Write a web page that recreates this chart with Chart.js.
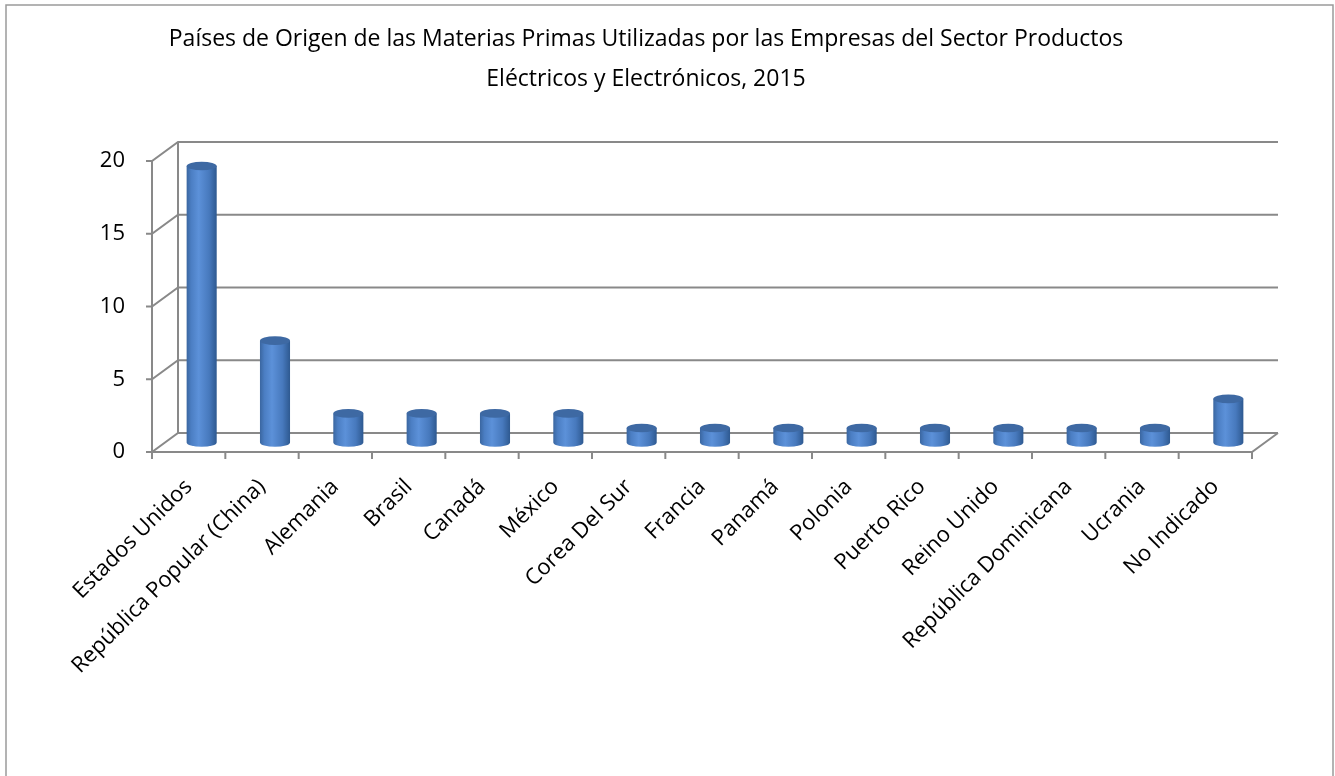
<!DOCTYPE html>
<html>
<head>
<meta charset="utf-8">
<script src="https://cdn.jsdelivr.net/npm/chart.js@4.4.1/dist/chart.umd.min.js"></script>
<style>
  html, body { margin: 0; padding: 0; background: #fff; }
  #wrap { width: 1335px; height: 776px; position: relative; }
</style>
</head>
<body>
<div id="wrap"><canvas id="originChart"></canvas></div>
<script>
const countries = [
    'Estados Unidos', 'República Popular (China)', 'Alemania', 'Brasil', 'Canadá',
    'México', 'Corea Del Sur', 'Francia', 'Panamá', 'Polonia', 'Puerto Rico',
    'Reino Unido', 'República Dominicana', 'Ucrania', 'No Indicado'
];
const companies = [19, 7, 2, 2, 2, 2, 1, 1, 1, 1, 1, 1, 1, 1, 3];
const yTicks = [0, 5, 10, 15, 20];
const titleLines = [
    'Países de Origen de las Materias Primas Utilizadas por las Empresas del Sector Productos',
    'Eléctricos y Electrónicos, 2015'
];

// depth of the 3D box in pixels
const depthX = 26;
const depthY = -19;
const lineColor = '#898989';

const box3d = {
    id: 'box3d',
    beforeDraw(chart) {
        const ctx = chart.ctx;
        ctx.save();
        ctx.strokeStyle = '#9a9a9a';
        ctx.lineWidth = 1.5;
        ctx.strokeRect(6, 5, 1327, 800);
        ctx.restore();
    },
    beforeDatasetsDraw(chart) {
        const ctx = chart.ctx;
        const x = chart.scales.x;
        const y = chart.scales.y;
        const left = x.left, right = x.right;
        const bottom = y.getPixelForValue(0);
        ctx.save();
        ctx.strokeStyle = lineColor;
        ctx.lineWidth = 2;
        ctx.beginPath();
        // back wall gridlines + diagonals to the front axis
        yTicks.forEach(v => {
            const py = y.getPixelForValue(v);
            ctx.moveTo(left - 6, py);
            ctx.lineTo(left, py);
            ctx.lineTo(left + depthX, py + depthY);
            ctx.lineTo(right + depthX, py + depthY);
        });
        // back wall left edge
        ctx.moveTo(left + depthX, y.getPixelForValue(20) + depthY);
        ctx.lineTo(left + depthX, bottom + depthY);
        // front value axis
        ctx.moveTo(left, y.getPixelForValue(20));
        ctx.lineTo(left, bottom);
        // floor front edge and right side
        ctx.lineTo(right, bottom);
        ctx.lineTo(right + depthX, bottom + depthY);
        // category tick marks
        const step = (right - left) / countries.length;
        for (let i = 0; i <= countries.length; i++) {
            const px = left + step * i;
            ctx.moveTo(px, bottom);
            ctx.lineTo(px, bottom + 7);
        }
        ctx.stroke();
        ctx.restore();
    },
    afterDatasetsDraw(chart) {
        const ctx = chart.ctx;
        const meta = chart.getDatasetMeta(0);
        meta.data.forEach(bar => {
            const { x, y, base, width } = bar.getProps(['x', 'y', 'base', 'width'], true);
            const cx = x + depthX / 2;
            const top = y + depthY / 2;
            const bot = base + depthY / 2;
            const rx = width / 2;
            const ry = 4.3;
            const l = cx - rx, r = cx + rx;

            const grad = ctx.createLinearGradient(l, 0, r, 0);
            grad.addColorStop(0, '#3a66a0');
            grad.addColorStop(0.15, '#4b7ec3');
            grad.addColorStop(0.4, '#5c91d9');
            grad.addColorStop(0.75, '#4779bd');
            grad.addColorStop(1, '#2e5990');

            ctx.save();
            ctx.beginPath();
            ctx.moveTo(l, top);
            ctx.lineTo(l, bot);
            ctx.ellipse(cx, bot, rx, ry, 0, Math.PI, 0, true);
            ctx.lineTo(r, top);
            ctx.closePath();
            ctx.fillStyle = grad;
            ctx.fill();

            ctx.beginPath();
            ctx.ellipse(cx, top, rx, ry, 0, 0, Math.PI * 2);
            ctx.fillStyle = '#3e69a3';
            ctx.fill();
            ctx.restore();
        });
    }
};

const ctx = document.getElementById('originChart').getContext('2d');
new Chart(ctx, {
    type: 'bar',
    data: {
        labels: countries,
        datasets: [{
            label: 'Empresas',
            data: companies,
            backgroundColor: 'rgba(0,0,0,0)',
            borderWidth: 0,
            barPercentage: 0.41,
            categoryPercentage: 1
        }]
    },
    options: {
        responsive: true,
        maintainAspectRatio: false,
        animation: false,
        layout: {
            padding: { left: 40, right: 83, top: 0, bottom: 0 }
        },
        plugins: {
            legend: { display: false },
            tooltip: { enabled: false },
            title: {
                display: true,
                text: titleLines,
                color: '#000',
                font: { family: 'Open Sans', size: 23, weight: 'normal', lineHeight: '40px' },
                padding: { top: 19, bottom: 62 }
            }
        },
        scales: {
            x: {
                grid: { display: false },
                border: { display: false },
                ticks: {
                    color: '#000',
                    font: { family: 'Open Sans', size: 22 },
                    minRotation: 45,
                    maxRotation: 45,
                    autoSkip: false,
                    padding: 14
                },
                afterFit(scale) { scale.height = 324; }
            },
            y: {
                min: 0,
                max: 20,
                grid: { display: false },
                border: { display: false },
                ticks: {
                    color: '#000',
                    stepSize: 5,
                    font: { family: 'Open Sans', size: 22 },
                    padding: 19
                },
                afterFit(scale) { scale.width = 112; }
            }
        }
    },
    plugins: [box3d]
});
</script>
</body>
</html>
